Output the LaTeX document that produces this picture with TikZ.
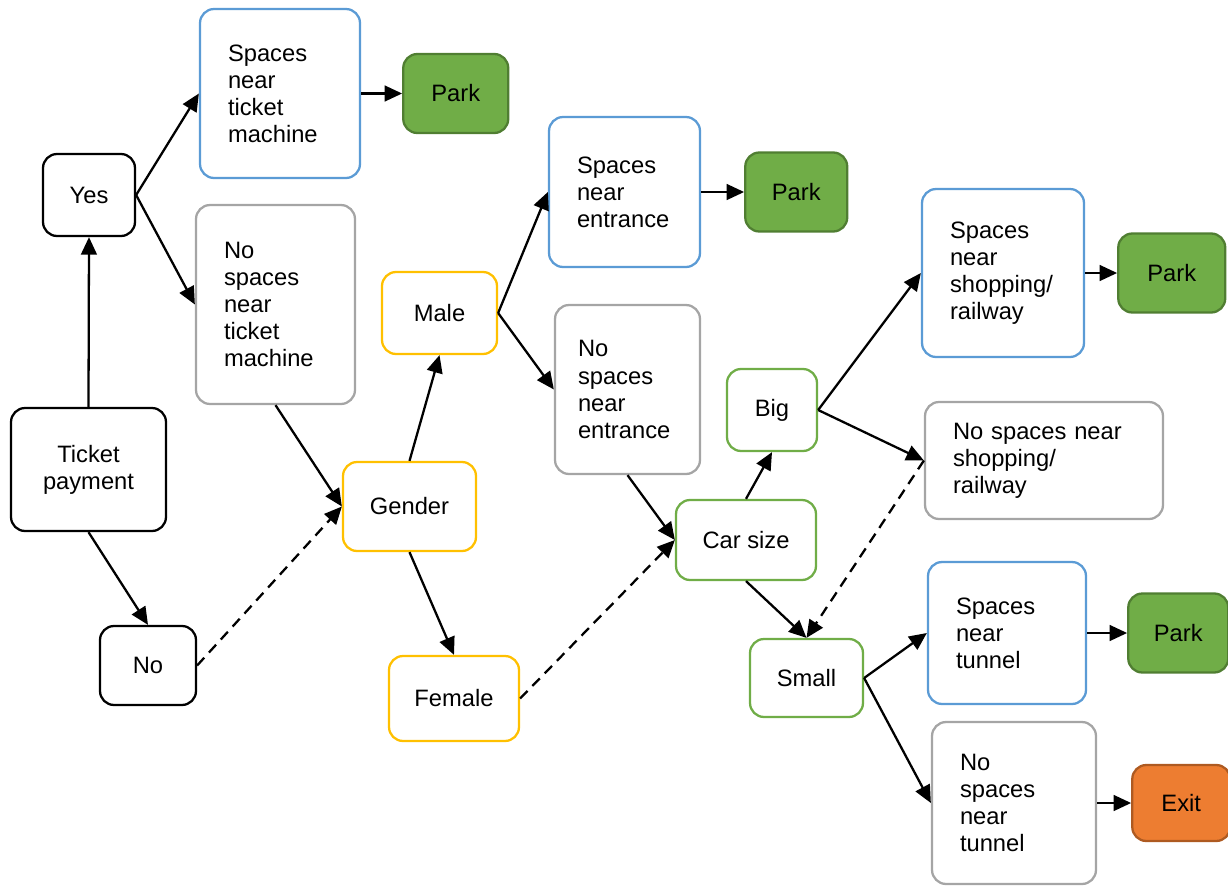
\documentclass[tikz,border=0pt]{standalone}
\usepackage{fontspec}
\setmainfont{Liberation Sans}
\usepackage{tikz}
\usetikzlibrary{positioning, arrows.meta, shapes.geometric}

\definecolor{boxblue}{HTML}{5B9BD5}
\definecolor{boxgray}{HTML}{A5A5A5}
\definecolor{boxyellow}{HTML}{FFC000}
\definecolor{boxgreen}{HTML}{70AD47}
\definecolor{parkline}{HTML}{507E32}
\definecolor{exitfill}{HTML}{ED7D31}
\definecolor{exitline}{HTML}{AE5A21}

\begin{document}
\begin{tikzpicture}[
                x=0.02cm, y=-0.02cm,
                every node/.style={
                    font=\fontsize{13.5}{15.4}\selectfont
                },
                box/.style={
                    draw=black, line width=1.3pt, fill=white,
                    rounded corners=8pt,
                    inner sep=2pt,
                    align=left
                },
                % Text links buendig, Innenabstand fest
                wordy/.style={
                    text width=#1, inner xsep=0.56cm, align=left
                },
                bluebox/.style={box, draw=boxblue},
                graybox/.style={box, draw=boxgray},
                yellowbox/.style={box, draw=boxyellow},
                greenbox/.style={box, draw=boxgreen},
                parkbox/.style={
                    box, draw=parkline, fill=boxgreen,
                    minimum width=2.1cm, minimum height=1.58cm
                },
                exitbox/.style={
                    box, draw=exitline, fill=exitfill,
                    minimum width=1.96cm, minimum height=1.52cm
                },
                link/.style={
                    draw=black, line width=1.3pt,
                    -{Triangle[length=10pt, width=9pt]}
                },
                dashlink/.style={link, dashed, dash pattern=on 6pt off 4pt}
            ]

            \useasboundingbox (0,0) rectangle (1228,886);

            % --- Start ---
            \node[box, minimum width=3.1cm, minimum height=2.46cm, align=center] (ticket) at (88.5,469.5) {Ticket\\payment};
            \node[box, minimum width=1.84cm, minimum height=1.64cm] (yes) at (89,195) {Yes};
            \node[box, minimum width=1.92cm, minimum height=1.58cm] (no) at (148,665.5) {No};

            % --- Ticket machine ---
            \node[bluebox, wordy=2.08cm, minimum height=3.38cm] (nearTicket) at (280,93.5) {Spaces\\near\\ticket\\machine};
            \node[parkbox, right=0.82cm of nearTicket] (parkA) {Park};
            \node[graybox, wordy=2.06cm, minimum height=3.98cm] (noTicket) at (275.5,304.5) {No\\spaces\\near\\ticket\\machine};

            % --- Gender ---
            \node[yellowbox, minimum width=2.66cm, minimum height=1.78cm] (gender) at (409.5,506.5) {Gender};
            \node[yellowbox, minimum width=2.3cm, minimum height=1.64cm] (male) at (439.5,313) {Male};
            \node[yellowbox, minimum width=2.6cm, minimum height=1.7cm] (female) at (454,698.5) {Female};

            % --- Entrance ---
            \node[bluebox, wordy=1.9cm, minimum height=3.0cm] (nearEntrance) at (624.5,192) {Spaces\\near\\entrance};
            \node[parkbox, minimum width=2.04cm, right=0.86cm of nearEntrance] (parkB) {Park};
            \node[graybox, wordy=1.98cm, inner xsep=0.46cm, minimum height=3.38cm] (noEntrance) at (627.5,389.5) {No\\spaces\\near\\entrance};

            % --- Car size ---
            \node[greenbox, minimum width=2.8cm, minimum height=1.6cm] (carSize) at (746,540) {Car size};
            \node[greenbox, minimum width=1.8cm, minimum height=1.64cm] (big) at (772,410) {Big};
            \node[greenbox, minimum width=2.26cm, minimum height=1.56cm] (small) at (806.5,678) {Small};

            % --- Shopping / railway ---
            \node[bluebox, wordy=2.12cm, minimum height=3.36cm] (nearShop) at (1003,273) {Spaces\\near\\shopping/\\railway};
            \node[parkbox, minimum width=2.14cm, right=0.64cm of nearShop] (parkC) {Park};
            \node[graybox, wordy=3.64cm, minimum height=2.34cm] (noShop) at (1044,460.5) {No spaces near\\shopping/\\railway};

            % --- Tunnel ---
            \node[bluebox, wordy=2.04cm, minimum height=2.84cm] (nearTunnel) at (1007,633) {Spaces\\near\\tunnel};
            \node[parkbox, minimum width=2.0cm, right=0.8cm of nearTunnel] (parkD) {Park};
            \node[graybox, wordy=2.16cm, minimum height=3.24cm] (noTunnel) at (1014,803) {No\\spaces\\near\\tunnel};
            \node[exitbox, right=0.68cm of noTunnel] (exit) {Exit};

            % --- Verbindungen ---
            \draw[link] (ticket.north) -- (yes.south);
            \draw[link] (ticket.south) -- (no.north);
            \draw[link] (yes.east) -- (nearTicket.west);
            \draw[link] (yes.east) -- (noTicket.west);
            \draw[link] (nearTicket.east) -- (parkA.west);
            \draw[link] (noTicket.south) -- (gender.west);
            \draw[dashlink] (no.east) -- (gender.west);

            \draw[link] (gender.north) -- (male.south);
            \draw[link] (gender.south) -- (female.north);
            \draw[link] (male.east) -- (nearEntrance.west);
            \draw[link] (male.east) -- (noEntrance.west);
            \draw[link] (nearEntrance.east) -- (parkB.west);
            \draw[link] (noEntrance.south) -- (carSize.west);
            \draw[dashlink] (female.east) -- (carSize.west);

            \draw[link] (carSize.north) -- (big.south);
            \draw[link] (carSize.south) -- (small.north);
            \draw[link] (big.east) -- (nearShop.west);
            \draw[link] (big.east) -- (noShop.west);
            \draw[link] (nearShop.east) -- (parkC.west);
            \draw[dashlink] (noShop.west) -- (small.north);

            \draw[link] (small.east) -- (nearTunnel.west);
            \draw[link] (small.east) -- (noTunnel.west);
            \draw[link] (nearTunnel.east) -- (parkD.west);
            \draw[link] (noTunnel.east) -- (exit.west);

        \end{tikzpicture}
\end{document}
